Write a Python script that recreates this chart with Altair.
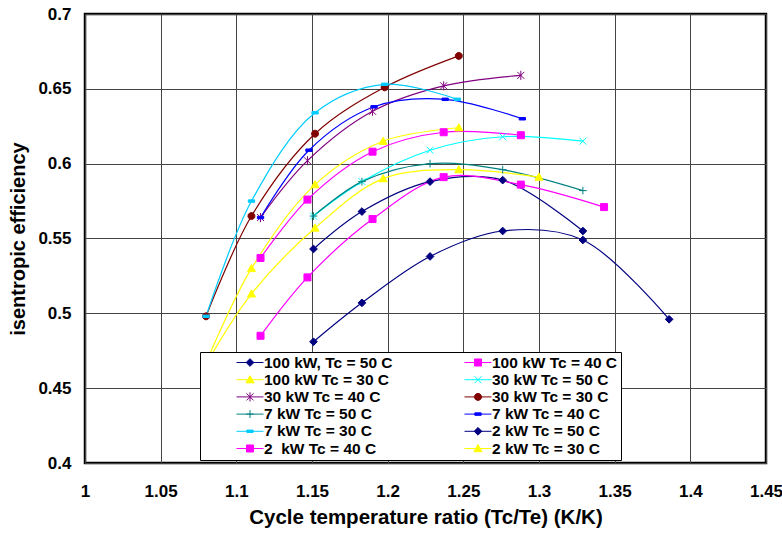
import math
import altair as alt
import pandas as pd

# ---------------- data ----------------
series_names = [
    "100 kW, Tc = 50 C", "100 kW Tc = 40 C",
    "100 kW Tc = 30 C", "30 kW Tc = 50 C",
    "30 kW Tc = 40 C", "30 kW Tc = 30 C",
    "7 kW Tc = 50 C", "7 kW Tc = 40 C",
    "7 kW Tc = 30 C", "2 kW Tc = 50 C",
    "2\u00a0 kW Tc = 40 C", "2 kW Tc = 30 C",
]
series_x = [
    [1.151, 1.183, 1.228, 1.276, 1.329],
    [1.116, 1.147, 1.190, 1.237, 1.288],
    [1.080, 1.110, 1.152, 1.197, 1.247],
    [1.151, 1.183, 1.228, 1.276, 1.329],
    [1.116, 1.147, 1.190, 1.237, 1.288],
    [1.080, 1.110, 1.152, 1.198, 1.247],
    [1.151, 1.183, 1.228, 1.276, 1.329],
    [1.116, 1.148, 1.191, 1.238, 1.289],
    [1.080, 1.110, 1.152, 1.198, 1.246],
    [1.151, 1.183, 1.228, 1.276, 1.329, 1.386],
    [1.116, 1.147, 1.190, 1.237, 1.288, 1.343],
    [1.080, 1.110, 1.152, 1.197, 1.247, 1.300],
]
series_y = [
    [0.543, 0.568, 0.588, 0.589, 0.555],
    [0.537, 0.576, 0.608, 0.621, 0.619],
    [0.467, 0.530, 0.586, 0.615, 0.624],
    [0.565, 0.588, 0.609, 0.618, 0.615],
    [0.564, 0.602, 0.635, 0.652, 0.659],
    [0.498, 0.565, 0.620, 0.651, 0.672],
    [0.565, 0.588, 0.600, 0.596, 0.582],
    [0.564, 0.609, 0.638, 0.643, 0.630],
    [0.498, 0.575, 0.634, 0.653, 0.643],
    [0.481, 0.507, 0.538, 0.555, 0.549, 0.496],
    [0.485, 0.524, 0.563, 0.591, 0.586, 0.571],
    [0.466, 0.513, 0.557, 0.590, 0.596, 0.591],
]
x_ticks = [1, 1.05, 1.1, 1.15, 1.2, 1.25, 1.3, 1.35, 1.4, 1.45]
y_ticks = [0.4, 0.45, 0.5, 0.55, 0.6, 0.65, 0.7]

# ---------------- styles ----------------
colors = ["#000080", "#FF00FF", "#FFFF00", "#00FFFF", "#800080", "#800000",
          "#008080", "#0000FF", "#00CCFF", "#000080", "#FF00FF", "#FFFF00"]
marker_kind = ["diamond", "square", "triangle", "x", "star", "circle",
               "plus", "dash", "dash", "diamond", "square", "triangle"]

circle_pts = [(math.cos(2 * math.pi * k / 12), math.sin(2 * math.pi * k / 12)) for k in range(12)]
shapes = {
    "diamond": ("poly", [(0, -1.1), (1.1, 0), (0, 1.1), (-1.1, 0)]),
    "square": ("poly", [(-1, -1), (1, -1), (1, 1), (-1, 1)]),
    "triangle": ("poly", [(0, -1.15), (1.15, 0.9), (-1.15, 0.9)]),
    "circle": ("poly", circle_pts),
    "dash": ("poly", [(-0.9, -0.35), (0.9, -0.35), (0.9, 0.35), (-0.9, 0.35)]),
    "x": ("seg", [((-1, -1), (1, 1)), ((-1, 1), (1, -1))]),
    "star": ("seg", [((-1, -1), (1, 1)), ((-1, 1), (1, -1)), ((0, -1.3), (0, 1.3))]),
    "plus": ("seg", [((-1.1, 0), (1.1, 0)), ((0, -1.1), (0, 1.1))]),
}
open_kinds = {"x", "star", "plus"}


def f(v):
    return f"{v:.3f}"


def marker_path(kind, s=1.0):
    typ, pts = shapes[kind]
    if typ == "poly":
        return "M" + "L".join(f"{f(a * s)},{f(b * s)}" for a, b in pts) + "Z"
    return "".join(f"M{f(a[0] * s)},{f(a[1] * s)}L{f(b[0] * s)},{f(b[1] * s)}" for a, b in pts)


plot_paths = [marker_path(k) for k in marker_kind]
legend_paths = ["M-1,0L1,0" + marker_path(k, 0.26) for k in marker_kind]
fill_colors = ["transparent" if k in open_kinds else c for k, c in zip(marker_kind, colors)]

# legend lays entries out column by column: reorder so rows read like the original
leg_order = [0, 2, 4, 6, 8, 10, 1, 3, 5, 7, 9, 11]
leg_names = [series_names[i] for i in leg_order]
leg_paths = [legend_paths[i] for i in leg_order]
leg_fills = [fill_colors[i] for i in leg_order]
leg_colors = [colors[i] for i in leg_order]

rows = []
for name, xs, ys in zip(series_names, series_x, series_y):
    for xv, yv in zip(xs, ys):
        rows.append({"series": name, "ratio": xv, "eff": yv})
df = pd.DataFrame(rows)

FONT = "Liberation Sans, Arial, sans-serif"

xscale = alt.Scale(domain=[1, 1.45], nice=False, zero=False)
yscale = alt.Scale(domain=[0.4, 0.7], nice=False, zero=False)

base = alt.Chart(df).encode(
    x=alt.X("ratio:Q", scale=xscale,
            axis=alt.Axis(values=x_ticks, format="~g", labelPadding=20, titlePadding=8,
                          labelFlush=False, titleFontSize=20.5),
            title="Cycle temperature ratio (Tc/Te) (K/K)"),
    y=alt.Y("eff:Q", scale=yscale,
            axis=alt.Axis(values=y_ticks, format="~g", labelPadding=14, titlePadding=9,
                          titleFontSize=20),
            title="isentropic efficiency"),
)

lines = base.mark_line(interpolate="catmull-rom", strokeWidth=1.2).encode(
    color=alt.Color("series:N", scale=alt.Scale(domain=series_names, range=colors), legend=None),
    detail="series:N",
)

points = base.mark_point(opacity=1, strokeWidth=1, size=49).encode(
    shape=alt.Shape("series:N", scale=alt.Scale(domain=series_names, range=plot_paths), legend=None),
    fill=alt.Fill("series:N", scale=alt.Scale(domain=series_names, range=fill_colors), legend=None),
    stroke=alt.Stroke("series:N", scale=alt.Scale(domain=series_names, range=colors), legend=None),
)

leg = alt.Legend(
    title=None, orient="none", legendX=115, legendY=338, columns=2, columnPadding=38,
    rowPadding=1.2, padding=3, symbolSize=729, symbolOffset=33, labelOffset=0,
    clipHeight=15, labelFont=FONT, labelFontSize=15.5, labelFontWeight="bold",
    labelColor="black", labelLimit=300, fillColor="white", strokeColor="black",
    symbolStrokeWidth=1,
)

legend_layer = base.mark_point(opacity=1, strokeWidth=1).encode(
    shape=alt.Shape("series:N", scale=alt.Scale(domain=leg_names, range=leg_paths), legend=leg),
    fill=alt.Fill("series:N", scale=alt.Scale(domain=leg_names, range=leg_fills), legend=leg),
    stroke=alt.Stroke("series:N", scale=alt.Scale(domain=leg_names, range=leg_colors), legend=leg),
).transform_filter("false")

chart = alt.layer(lines, points, legend_layer).resolve_scale(
    color="independent", shape="independent", fill="independent", stroke="independent"
).properties(
    width=681, height=449,
    padding={"left": 85, "top": 14, "right": 16, "bottom": 74},
    autosize=alt.AutoSizeParams(type="none"),
    background="white",
).configure_view(
    stroke="black", strokeWidth=2.5
).configure_axis(
    grid=True, gridColor="#444", gridWidth=1, domain=False, ticks=False,
    labelFont=FONT, labelFontSize=17, labelFontWeight="bold", labelColor="black",
    titleFont=FONT, titleFontWeight="bold", titleColor="black",
)

chart.save("out.html", embed_options={"renderer": "svg", "actions": False})
